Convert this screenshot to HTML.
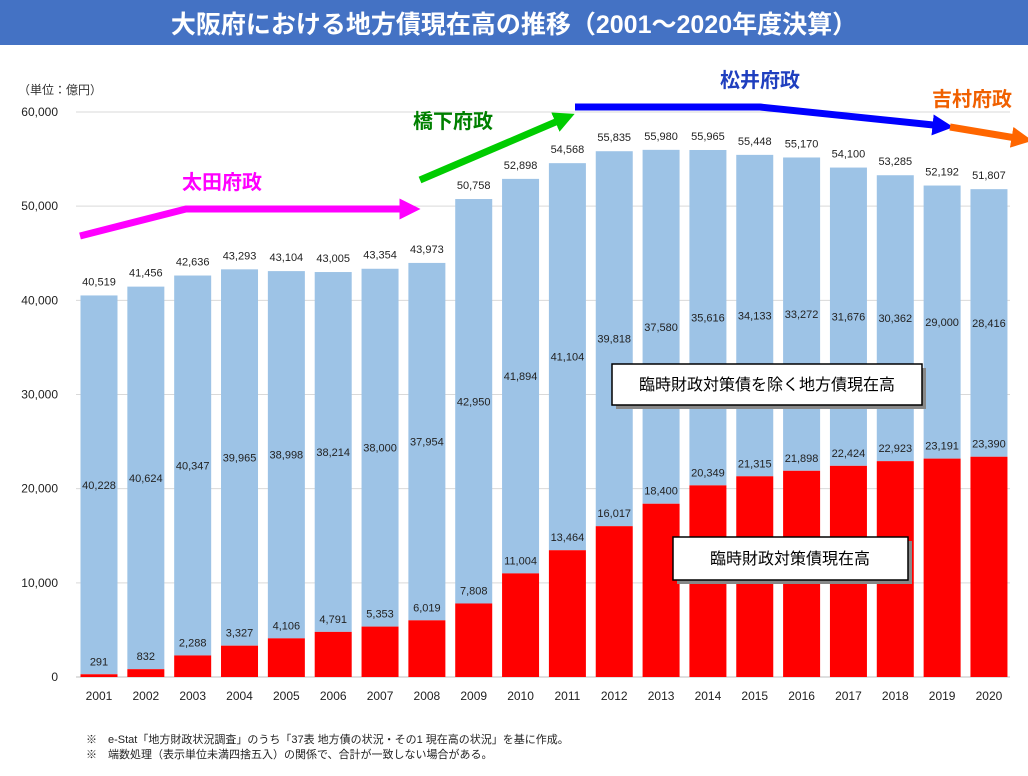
<!DOCTYPE html>
<html><head><meta charset="utf-8"><style>
body{margin:0;width:1028px;height:771px;background:#fff;overflow:hidden;font-family:"Liberation Sans","Noto Sans CJK JP",sans-serif}
</style></head><body>
<svg id="chart" width="1028" height="771" xmlns="http://www.w3.org/2000/svg" font-family="Liberation Sans, Noto Sans CJK JP, sans-serif">
<rect x="0" y="0" width="1028" height="45" fill="#4472C4"/>
<text x="514" y="33" text-anchor="middle" fill="#fff" font-size="25" font-weight="bold">大阪府における地方債現在高の推移（2001～2020年度決算）</text>
<text x="18" y="94" font-size="12" fill="#333">（単位：億円）</text>
<g id="grid"></g><g id="bars"></g><g id="labels"></g>
<defs>
<marker id="am" viewBox="0 0 10 10" refX="5" refY="5" markerWidth="3" markerHeight="3" orient="auto"><path d="M0,0L10,5L0,10z" fill="#FF00FF"/></marker>
<marker id="ag" viewBox="0 0 10 10" refX="5" refY="5" markerWidth="3" markerHeight="3" orient="auto"><path d="M0,0L10,5L0,10z" fill="#00CC00"/></marker>
<marker id="ab" viewBox="0 0 10 10" refX="5" refY="5" markerWidth="3" markerHeight="3" orient="auto"><path d="M0,0L10,5L0,10z" fill="#0000FF"/></marker>
<marker id="ao" viewBox="0 0 10 10" refX="5" refY="5" markerWidth="3" markerHeight="3" orient="auto"><path d="M0,0L10,5L0,10z" fill="#FF6600"/></marker>
</defs>
<polyline points="80,236 186,209 410,209" fill="none" stroke="#FF00FF" stroke-width="7" marker-end="url(#am)"/>
<text x="222" y="189" text-anchor="middle" font-size="20" font-weight="bold" fill="#FF00FF">太田府政</text>
<line x1="420" y1="180" x2="565" y2="118" stroke="#00CC00" stroke-width="7" marker-end="url(#ag)"/>
<text x="453" y="128" text-anchor="middle" font-size="20" font-weight="bold" fill="#008000">橋下府政</text>
<polyline points="575,107 760,107 943,126" fill="none" stroke="#0000FF" stroke-width="7" marker-end="url(#ab)"/>
<text x="760" y="87" text-anchor="middle" font-size="20" font-weight="bold" fill="#1F3FBF">松井府政</text>
<line x1="950" y1="127" x2="1022" y2="139" stroke="#FF6600" stroke-width="7" marker-end="url(#ao)"/>
<text x="972" y="106" text-anchor="middle" font-size="20" font-weight="bold" fill="#F06000">吉村府政</text>
<rect x="616" y="368" width="310" height="41" fill="#888"/>
<rect x="612" y="364" width="310" height="41" fill="#fff" stroke="#000" stroke-width="1.5"/>
<text x="767" y="390" text-anchor="middle" font-size="16" fill="#000">臨時財政対策債を除く地方債現在高</text>
<rect x="677" y="541" width="235" height="43" fill="#888"/>
<rect x="673" y="537" width="235" height="43" fill="#fff" stroke="#000" stroke-width="1.5"/>
<text x="790" y="564" text-anchor="middle" font-size="16" fill="#000">臨時財政対策債現在高</text>
<text x="86" y="743" font-size="11" fill="#222">※　e-Stat「地方財政状況調査」のうち「37表 地方債の状況・その1 現在高の状況」を基に作成。</text>
<text x="86" y="758" font-size="11" fill="#222">※　端数処理（表示単位未満四捨五入）の関係で、合計が一致しない場合がある。</text>
</svg>
<script>
const years=["2001","2002","2003","2004","2005","2006","2007","2008","2009","2010","2011","2012","2013","2014","2015","2016","2017","2018","2019","2020"];
const rinzai=[291,832,2288,3327,4106,4791,5353,6019,7808,11004,13464,16017,18400,20349,21315,21898,22424,22923,23191,23390];
const others=[40228,40624,40347,39965,38998,38214,38000,37954,42950,41894,41104,39818,37580,35616,34133,33272,31676,30362,29000,28416];
const totals=[40519,41456,42636,43293,43104,43005,43354,43973,50758,52898,54568,55835,55980,55965,55448,55170,54100,53285,52192,51807];
const ticks=[0,10000,20000,30000,40000,50000,60000];
const NS="http://www.w3.org/2000/svg";
const y=v=>677-v*(565/60000);
const x=i=>99+i*46.84;
const bw=37;
const fmt=v=>v.toLocaleString("en-US");
function mk(parent,tag,attrs,text){const e=document.createElementNS(NS,tag);for(const k in attrs)e.setAttribute(k,attrs[k]);if(text!==undefined)e.textContent=text;document.getElementById(parent).appendChild(e);return e;}
ticks.forEach(t=>{
 const l=mk("grid","line",{x1:76,x2:1010,y1:y(t),y2:y(t),stroke:t?"#d9d9d9":"#bfbfbf","stroke-width":1});
 
 
 const tx=mk("grid","text",{x:58,y:y(t)+4,"text-anchor":"end","font-size":12,fill:"#222"},fmt(t));
 
 
});
years.forEach((yr,i)=>{
 const cx=x(i);
 const b1=mk("bars","rect",{x:cx-bw/2,y:y(rinzai[i]+others[i]),width:bw,height:y(rinzai[i])-y(rinzai[i]+others[i]),fill:"#9DC3E6"});
 
 
 const b2=mk("bars","rect",{x:cx-bw/2,y:y(rinzai[i]),width:bw,height:y(0)-y(rinzai[i]),fill:"#FF0000"});
 
 
 const a=mk("labels","text",{x:cx,y:y(totals[i])-10,"text-anchor":"middle","font-size":11,fill:"#222"},fmt(totals[i]));
 
 
 const b=mk("labels","text",{x:cx,y:(y(rinzai[i])+y(rinzai[i]+others[i]))/2+4,"text-anchor":"middle","font-size":11,fill:"#222"},fmt(others[i]));
 
 
 const c=mk("labels","text",{x:cx,y:y(rinzai[i])-9,"text-anchor":"middle","font-size":11,fill:"#222"},fmt(rinzai[i]));
 
 
 const d=mk("labels","text",{x:cx,y:700,"text-anchor":"middle","font-size":12,fill:"#222"},yr);
 
 
});
</script>
</body></html>
